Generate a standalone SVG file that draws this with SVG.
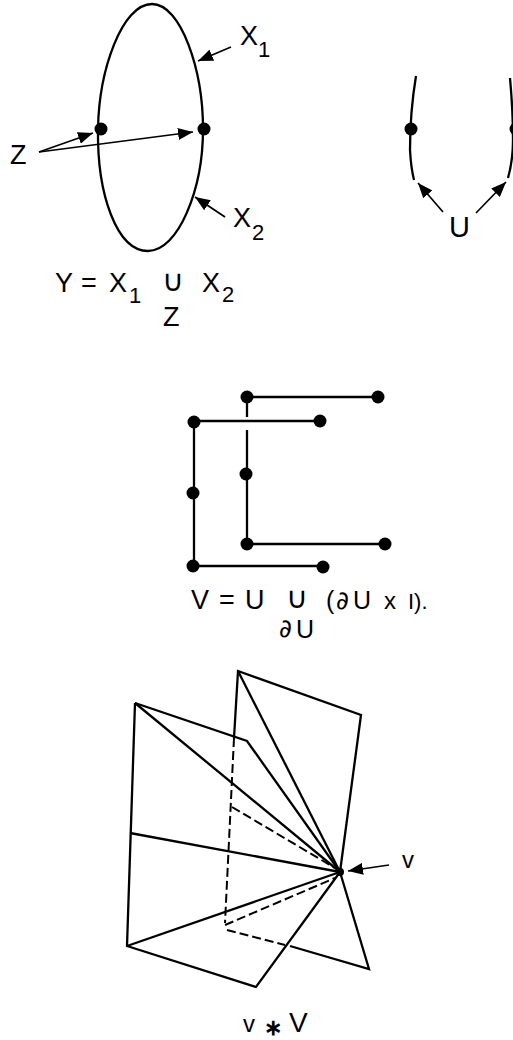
<svg xmlns="http://www.w3.org/2000/svg" width="513" height="1040" viewBox="0 0 513 1040">
<style>
text{font-family:"Liberation Sans",Arial,sans-serif;fill:#000}
.l{fill:none;stroke:#000;stroke-width:2.3}
.d{fill:none;stroke:#000;stroke-width:2;stroke-dasharray:9 4}
.a{fill:none;stroke:#000;stroke-width:1.7}
.f{font-size:27px}.s{font-size:22px}.m{font-size:27px}
.o{font-family:"DejaVu Sans",sans-serif;font-size:30px;text-anchor:middle}
.p{font-family:"DejaVu Sans",sans-serif;font-size:25px}
</style>
<defs>
<marker id="ah" markerUnits="userSpaceOnUse" markerWidth="16" markerHeight="12" refX="15" refY="6" orient="auto"><path d="M0 0L15 6L0 12Z"/></marker>
<circle id="dot" r="6.5"/>
</defs>
<rect width="513" height="1040" fill="#fff"/>
<g id="connectors">
<path class="a" marker-end="url(#ah)" d="M231 47L198 61"/>
<path class="a" marker-end="url(#ah)" d="M225 217L195 197"/>
<path class="a" marker-end="url(#ah)" d="M39 152L93 133"/>
<path class="a" marker-end="url(#ah)" d="M39 152L193 132"/>
<path class="a" marker-end="url(#ah)" d="M443 212L418 183"/>
<path class="a" marker-end="url(#ah)" d="M476 213L506 182"/>
<path class="a" marker-end="url(#ah)" d="M389 865L348 871"/>
</g>
<g id="curve-y"><path class="l" d="M152 4C122 4 99 70 98 129C97 195 117 251 148 251C178 251 203 190 203 129C203 70 181 4 152 4Z"/></g>
<g id="dots-y"><use href="#dot" x="101" y="129"/><use href="#dot" x="204" y="129"/></g>
<g id="curve-u"><path class="l" d="M416 76C412 100 410 130 410 150Q411 168 414 180"/><path class="l" d="M510 78C512 100 513 120 513 140Q513 160 508 178"/><use href="#dot" x="411" y="129"/><use href="#dot" x="516" y="129"/></g>
<g id="label-y">
<text class="f" x="240" y="45">X</text><text class="s" x="258" y="57">1</text>
<text class="f" x="233" y="227">X</text><text class="s" x="252" y="240">2</text>
<text class="f" x="10" y="164">Z</text>
<text x="449" y="237" style="font-size:29px">U</text>
<text class="f" x="55" y="292">Y</text><text class="f" x="81" y="292">=</text><text class="f" x="109" y="292">X</text><text class="s" x="129" y="303">1</text>
<text class="o" x="173" y="291">∪</text>
<text class="f" x="202" y="292">X</text><text class="s" x="222" y="302">2</text>
<text class="f" x="163" y="326">Z</text>
</g>
<g id="v-graph">
<path class="l" d="M247 397H378"/><path class="l" d="M247 397V417M247 430V544H385"/>
<path class="l" d="M320 421H194V566H323"/>
<use href="#dot" x="247" y="397"/><use href="#dot" x="378" y="397"/><use href="#dot" x="194" y="422"/><use href="#dot" x="320" y="421"/><use href="#dot" x="193" y="493"/><use href="#dot" x="246" y="474"/><use href="#dot" x="247" y="544"/><use href="#dot" x="385" y="544"/><use href="#dot" x="193" y="566"/><use href="#dot" x="323" y="567"/>
<text class="m" x="191" y="609">V</text><text class="m" x="219" y="609">=</text><text class="m" x="245" y="609">U</text>
<text class="o" x="297" y="608">∪</text>
<text x="326" y="609" style="font-size:25px">(</text><text class="p" x="336" y="609">∂</text><text x="353" y="609" style="font-size:25px">U</text><text x="384" y="609" style="font-size:24px">x</text><text class="s" x="408" y="609">I).</text>
<text class="p" x="279" y="637">∂</text><text x="296" y="638" style="font-size:25px">U</text>
</g>
<g id="cone">
<path class="l" d="M135 703L127 946L256 987L340 872"/>
<path class="l" d="M135 703L247 741L340 872"/>
<path class="l" d="M135 703L340 872"/>
<path class="l" d="M234 738L238 671L361 715L340 872L369 969L290 946"/>
<path class="l" d="M238 671L340 872"/>
<path class="l" d="M130 833L340 872"/>
<path class="l" d="M127 946L340 872"/>
<path class="d" d="M234 738L225 923"/>
<path class="d" d="M232 807L335 868"/>
<path class="d" d="M225 925L335 878"/>
<path class="d" d="M227 930L285 945"/>
<circle cx="340" cy="872" r="4"/>
<text x="402" y="868" style="font-size:24px">v</text>
<text x="243" y="1032" style="font-size:24px">v</text><text x="264" y="1035" style="font-size:22px;font-weight:bold">∗</text><text x="289" y="1032" style="font-size:28px">V</text>
</g>
</svg>
